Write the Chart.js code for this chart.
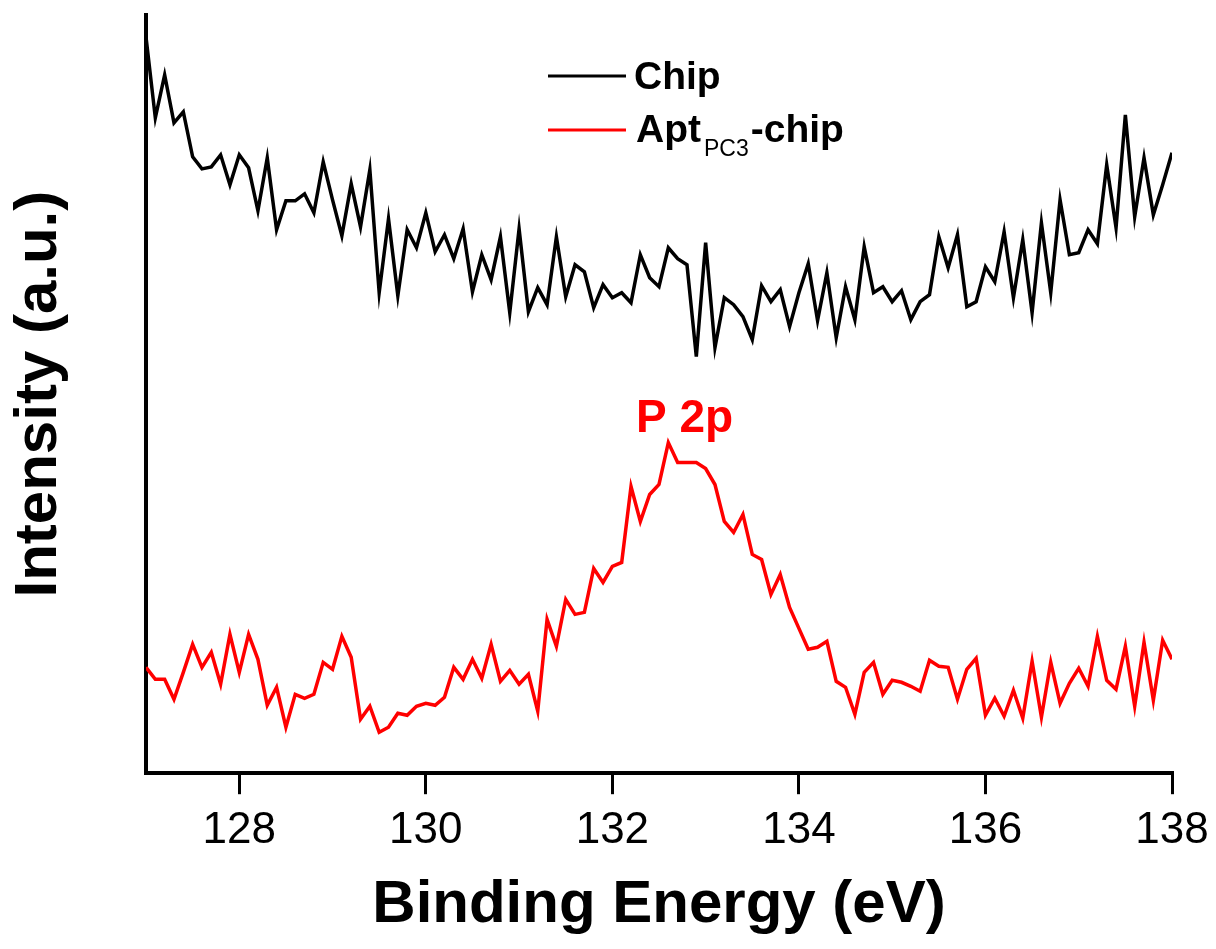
<!DOCTYPE html>
<html>
<head>
<meta charset="utf-8">
<title>P 2p XPS</title>
<script src="https://cdn.jsdelivr.net/npm/chart.js@4.4.1/dist/chart.umd.min.js"></script>
<style>
  html, body { margin: 0; padding: 0; background: #fff; }
  #wrap { width: 1216px; height: 949px; position: relative; }
</style>
</head>
<body>
<div id="wrap"><canvas id="xps"></canvas></div>
<script>
// binding energy grid (eV), 0.1 eV steps
const energies = [
  127.0, 127.1, 127.2, 127.3, 127.4, 127.5, 127.6, 127.7, 127.8, 127.9,
  128.0, 128.1, 128.2, 128.3, 128.4, 128.5, 128.6, 128.7, 128.8, 128.9,
  129.0, 129.1, 129.2, 129.3, 129.4, 129.5, 129.6, 129.7, 129.8, 129.9,
  130.0, 130.1, 130.2, 130.3, 130.4, 130.5, 130.6, 130.7, 130.8, 130.9,
  131.0, 131.1, 131.2, 131.3, 131.4, 131.5, 131.6, 131.7, 131.8, 131.9,
  132.0, 132.1, 132.2, 132.3, 132.4, 132.5, 132.6, 132.7, 132.8, 132.9,
  133.0, 133.1, 133.2, 133.3, 133.4, 133.5, 133.6, 133.7, 133.8, 133.9,
  134.0, 134.1, 134.2, 134.3, 134.4, 134.5, 134.6, 134.7, 134.8, 134.9,
  135.0, 135.1, 135.2, 135.3, 135.4, 135.5, 135.6, 135.7, 135.8, 135.9,
  136.0, 136.1, 136.2, 136.3, 136.4, 136.5, 136.6, 136.7, 136.8, 136.9,
  137.0, 137.1, 137.2, 137.3, 137.4, 137.5, 137.6, 137.7, 137.8, 137.9,
  138.0
];

// intensity (a.u.)
const chipCounts = [
  737, 656, 699, 651, 662, 617, 605, 607, 619, 589,
  619, 606, 563, 616, 544, 573, 573, 580, 561, 612,
  574, 538, 590, 547, 604, 481, 555, 478, 544, 526,
  561, 522, 539, 515, 545, 482, 519, 494, 537, 461,
  545, 462, 486, 469, 537, 477, 509, 502, 466, 489,
  476, 481, 471, 519, 496, 487, 526, 515, 509, 417,
  531, 426, 476, 469, 457, 434, 488, 472, 484, 447,
  481, 510, 453, 501, 436, 487, 454, 527, 481, 487,
  472, 483, 454, 472, 479, 537, 506, 539, 467, 472,
  507, 492, 542, 476, 534, 461, 551, 481, 574, 519,
  521, 544, 530, 609, 546, 659, 557, 616, 559, 589,
  621
];

const aptCounts = [
  106, 94, 94, 74, 101, 129, 106, 121, 89, 139,
  101, 139, 114, 68, 86, 46, 79, 75, 79, 111,
  104, 137, 116, 54, 67, 41, 46, 60, 58, 67,
  70, 68, 76, 106, 94, 114, 95, 129, 92, 103,
  89, 99, 62, 154, 127, 174, 159, 161, 205, 191,
  207, 211, 287, 252, 279, 289, 331, 311, 311, 311,
  305, 289, 252, 241, 259, 219, 214, 179, 199, 166,
  145, 124, 126, 132, 92, 86, 59, 101, 111, 79,
  93, 91, 87, 82, 113, 107, 106, 74, 104, 115,
  58, 75, 57, 83, 55, 112, 56, 111, 70, 90,
  105, 87, 137, 93, 84, 127, 67, 131, 73, 133,
  114
];

const xTickValues = [128, 130, 132, 134, 136, 138];

const FONT = "'Liberation Sans', Arial, Helvetica, sans-serif";

const toPoints = (ys) => ys.map((y, i) => ({ x: energies[i], y }));

// legend with subscript + peak label, drawn on top
const annotations = {
  id: 'annotations',
  afterDraw(chart) {
    const { ctx } = chart;
    const sets = chart.data.datasets;
    ctx.save();
    ctx.lineWidth = 3;
    ctx.textBaseline = 'alphabetic';
    ctx.textAlign = 'left';

    ctx.strokeStyle = sets[0].borderColor;
    ctx.beginPath(); ctx.moveTo(548, 76); ctx.lineTo(626, 76); ctx.stroke();
    ctx.fillStyle = '#000';
    ctx.font = `bold 39px ${FONT}`;
    ctx.fillText('Chip', 634, 89);

    ctx.strokeStyle = sets[1].borderColor;
    ctx.beginPath(); ctx.moveTo(548, 130); ctx.lineTo(626, 130); ctx.stroke();
    ctx.font = `bold 39px ${FONT}`;
    ctx.fillText('Apt', 636, 142);
    let x = 636 + ctx.measureText('Apt').width + 3;
    ctx.font = `23px ${FONT}`;
    ctx.fillText('PC3', x, 156);
    x += ctx.measureText('PC3').width + 2;
    ctx.font = `bold 39px ${FONT}`;
    ctx.fillText('-chip', x, 142);

    ctx.fillStyle = '#ff0000';
    ctx.font = `bold 46px ${FONT}`;
    ctx.fillText('P 2p', 636, 432);
    ctx.restore();
  }
};

new Chart(document.getElementById('xps'), {
  type: 'line',
  data: {
    datasets: [
      {
        label: 'Chip',
        data: toPoints(chipCounts),
        borderColor: '#000000',
        borderWidth: 3.5,
        pointRadius: 0,
        tension: 0,
        fill: false,
      },
      {
        label: 'AptPC3-chip',
        data: toPoints(aptCounts),
        borderColor: '#ff0000',
        borderWidth: 3.5,
        pointRadius: 0,
        tension: 0,
        fill: false,
      },
    ],
  },
  options: {
    responsive: true,
    maintainAspectRatio: false,
    animation: false,
    layout: { padding: { left: 0, top: 15, right: 44, bottom: 0 } },
    plugins: {
      legend: { display: false },
      tooltip: { enabled: false },
    },
    scales: {
      x: {
        type: 'linear',
        min: 127,
        max: 138,
        afterBuildTicks: (scale) => {
          scale.ticks = xTickValues.map((v) => ({ value: v }));
        },
        // let the last label hang past the plot edge, as in the original
        afterFit: (scale) => {
          scale.paddingRight = 0;
          scale.paddingLeft = 0;
        },
        ticks: {
          color: '#000',
          padding: 10,
          font: { family: FONT, size: 44 },
          maxRotation: 0,
        },
        grid: {
          display: true,
          drawOnChartArea: false,
          drawTicks: true,
          tickLength: 21,
          lineWidth: 3,
          color: '#000',
        },
        border: { display: true, width: 4, color: '#000' },
        title: {
          display: true,
          text: 'Binding Energy (eV)',
          color: '#000',
          font: { family: FONT, size: 60, weight: 'bold' },
          padding: { top: 2, bottom: 8 },
        },
      },
      y: {
        min: 0,
        max: 759,
        ticks: { display: false },
        grid: { display: false },
        border: { display: true, width: 4, color: '#000' },
        title: {
          display: true,
          text: 'Intensity (a.u.)',
          color: '#000',
          font: { family: FONT, size: 60, weight: 'bold' },
          padding: { top: 3, bottom: 63 },
        },
      },
    },
  },
  plugins: [annotations],
});
</script>
</body>
</html>
